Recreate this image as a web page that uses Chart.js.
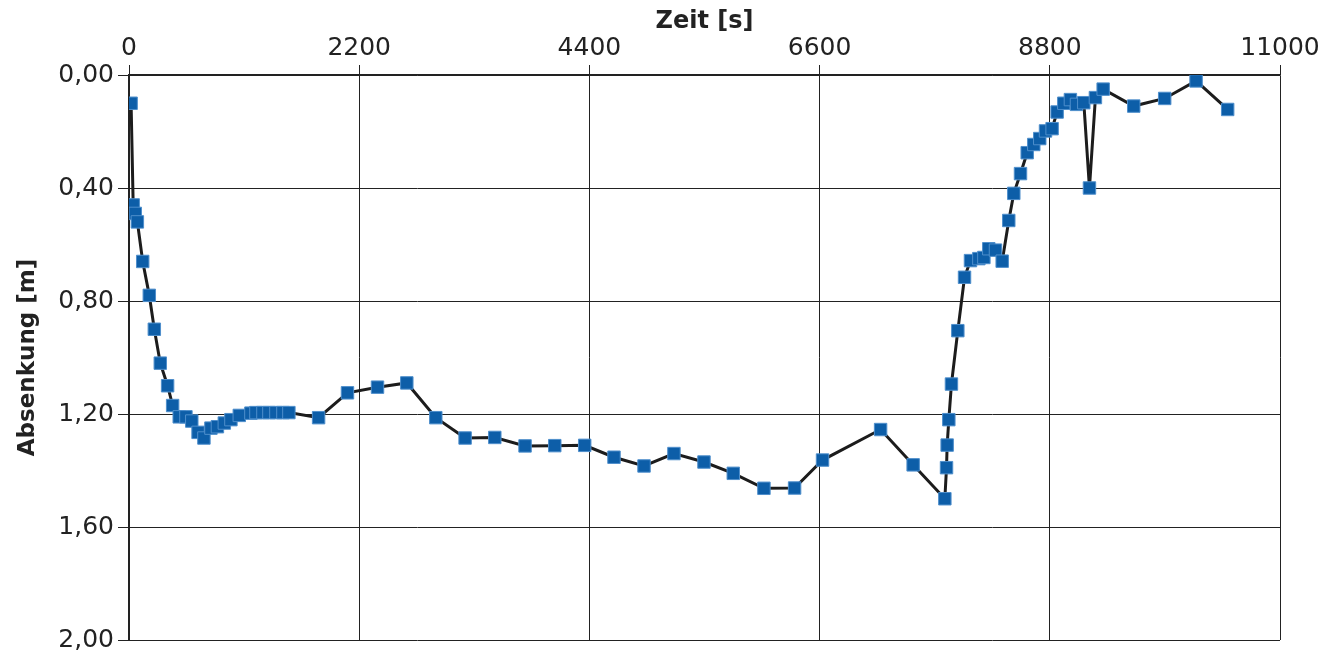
<!DOCTYPE html>
<html>
<head>
<meta charset="utf-8">
<title>Absenkung</title>
<script src="https://cdn.jsdelivr.net/npm/chart.js@4/dist/chart.umd.min.js"></script>
<style>
    body { margin: 0; background: #ffffff; }
    #wrap { width: 1340px; height: 659px; }
</style>
</head>
<body>
<div id="wrap"><canvas id="myChart" width="1340" height="659"></canvas></div>
<script>
// Zeit [s] der Messpunkte
var zeit = [20, 40, 60, 80, 131, 194, 242, 299, 369, 417,
    480, 544, 600, 660, 716, 783, 845, 911, 974, 1054,
    1165, 1213, 1280, 1337, 1404, 1471, 1528, 1812, 2088, 2375,
    2655, 2932, 3212, 3496, 3785, 4069, 4355, 4635, 4922, 5208,
    5495, 5775, 6068, 6361, 6628, 7183, 7494, 7797, 7813, 7819,
    7835, 7860, 7921, 7985, 8042, 8122, 8170, 8217, 8281, 8345,
    8408, 8456, 8520, 8584, 8647, 8704, 8759, 8822, 8870, 8934,
    8997, 9055, 9125, 9179, 9236, 9310, 9602, 9898, 10198, 10500];

// Absenkung [m]
var absenkung = [0.10, 0.46, 0.49, 0.52, 0.66, 0.78, 0.90, 1.02, 1.10, 1.17,
    1.21, 1.21, 1.225, 1.265, 1.285, 1.25, 1.245, 1.232, 1.22, 1.205,
    1.197, 1.195, 1.195, 1.195, 1.195, 1.195, 1.195, 1.213, 1.125, 1.105,
    1.09, 1.213, 1.285, 1.283, 1.313, 1.312, 1.311, 1.353, 1.384, 1.34,
    1.37, 1.41, 1.463, 1.462, 1.363, 1.255, 1.38, 1.50, 1.39, 1.31,
    1.22, 1.094, 0.905, 0.716, 0.657, 0.65, 0.646, 0.615, 0.62, 0.659,
    0.515, 0.419, 0.349, 0.275, 0.246, 0.225, 0.198, 0.19, 0.131, 0.10,
    0.087, 0.104, 0.098, 0.40, 0.08, 0.05, 0.11, 0.083, 0.021, 0.122];

var xTicks = [0, 2200, 4400, 6600, 8800, 11000];
var yTicks = [0, 0.4, 0.8, 1.2, 1.6, 2.0];

window.onload = function () {

    var points = [];
    for (var i = 0; i < zeit.length; i++) {
        points.push({ x: zeit[i], y: absenkung[i] });
    }

    var ctx = document.getElementById("myChart");
    var myChart = new Chart(ctx, {
        type: 'scatter',
        data: {
            datasets: [{
                label: 'Absenkung',
                data: points,
                showLine: true,
                tension: 0,
                borderColor: '#1c1c1c',
                borderWidth: 3,
                pointStyle: 'rect',
                pointRadius: 8.8,
                pointHoverRadius: 8.8,
                pointBackgroundColor: '#0d5ea8',
                pointBorderColor: '#4f8fcc',
                pointBorderWidth: 1
            }]
        },
        options: {
            responsive: false,
            animation: false,
            devicePixelRatio: 1,
            layout: {
                padding: { left: 0, top: 0, right: 60, bottom: 15 }
            },
            plugins: {
                legend: { display: false },
                tooltip: { enabled: false }
            },
            scales: {
                x: {
                    type: 'linear',
                    position: 'top',
                    min: xTicks[0],
                    max: xTicks[xTicks.length - 1],
                    afterFit: function (scale) { scale.height = 75; },
                    afterBuildTicks: function (scale) {
                        scale.ticks = xTicks.map(function (v) { return { value: v }; });
                    },
                    title: {
                        display: true,
                        text: 'Zeit [s]',
                        color: '#222',
                        font: { family: 'DejaVu Sans', size: 24, weight: 'bold' },
                        padding: { top: 7, bottom: 0 }
                    },
                    ticks: {
                        color: '#222',
                        padding: 2,
                        maxRotation: 0,
                        font: { family: 'DejaVu Sans', size: 25 },
                        callback: function (v) { return String(v); }
                    },
                    grid: {
                        color: '#222',
                        lineWidth: 1,
                        drawTicks: true,
                        tickLength: 10
                    },
                    border: { display: true, color: '#222', width: 1.5 }
                },
                y: {
                    type: 'linear',
                    reverse: true,
                    min: yTicks[0],
                    max: yTicks[yTicks.length - 1],
                    afterFit: function (scale) { scale.width = 129; },
                    afterBuildTicks: function (scale) {
                        scale.ticks = yTicks.map(function (v) { return { value: v }; });
                    },
                    title: {
                        display: true,
                        text: 'Absenkung [m]',
                        color: '#222',
                        font: { family: 'DejaVu Sans', size: 23, weight: 'bold' },
                        padding: { top: 14, bottom: 0 }
                    },
                    ticks: {
                        color: '#222',
                        padding: 4,
                        font: { family: 'DejaVu Sans', size: 25 },
                        callback: function (v) { return Number(v).toFixed(2).replace('.', ','); }
                    },
                    grid: {
                        color: '#222',
                        lineWidth: 1,
                        drawTicks: true,
                        tickLength: 11
                    },
                    border: { display: true, color: '#222', width: 2 }
                }
            }
        }
    });

};
</script>
</body>
</html>
